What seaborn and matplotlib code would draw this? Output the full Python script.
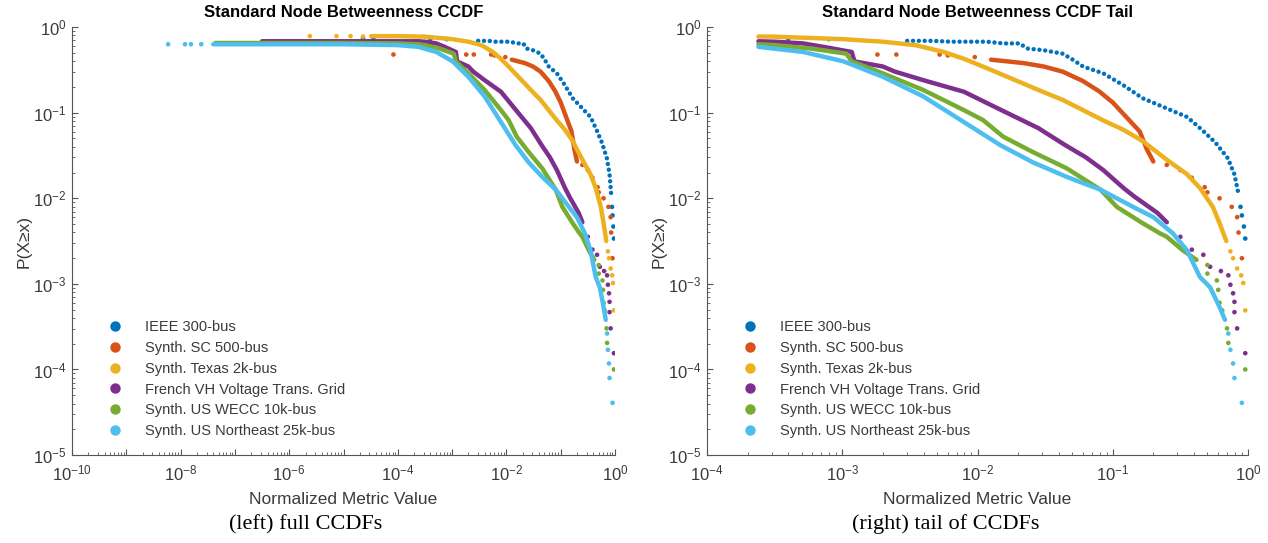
import numpy as np
import pandas as pd
import matplotlib
matplotlib.use("Agg")
import matplotlib.pyplot as plt
import seaborn as sns
from matplotlib.lines import Line2D
from matplotlib.ticker import LogLocator, FuncFormatter, NullFormatter

# values, stored as log10(x) and log10(P(X>=x))
# "line" = dense runs of points, "dot" = isolated points

ieee300_line_lx = [-2.52, -2.33, -2.2, -2.05, -1.93, -1.81, -1.69, -1.63, -1.51, -1.37, -1.29,
                   -1.22, -1.07, -0.92, -0.78, -0.6, -0.45, -0.34, -0.24, -0.15, -0.1, -0.07]
ieee300_line_ly = [-0.16, -0.16, -0.17, -0.17, -0.17, -0.19, -0.19, -0.25, -0.27, -0.31, -0.385,
                   -0.46, -0.54, -0.68, -0.83, -0.95, -1.05, -1.2, -1.35, -1.53, -1.72, -1.95]
ieee300_dot_lx = [-4.64, -4.45, -3.4, -3.1, -0.055, -0.045, -0.03, -0.02]
ieee300_dot_ly = [-0.13, -0.13, -0.14, -0.14, -2.1, -2.2, -2.33, -2.47]

sc500_line_lx = [-1.9, -1.66, -1.51, -1.37, -1.22, -1.1, -1.0, -0.9, -0.8, -0.75, -0.7]
sc500_line_ly = [-0.38, -0.42, -0.46, -0.52, -0.63, -0.75, -0.88, -1.05, -1.22, -1.42, -1.57]
sc500_dot_lx = [-4.08, -2.74, -2.6, -2.28, -2.22, -2.02, -0.6, -0.5, -0.415, -0.32, -0.3,
                -0.21, -0.12, -0.08, -0.07, -0.045]
sc500_dot_ly = [-0.32, -0.32, -0.32, -0.32, -0.33, -0.35, -1.61, -1.67, -1.76, -1.87, -1.93,
                -2.0, -2.1, -2.22, -2.4, -2.7]

texas2k_line_lx = [-4.49, -4.0, -3.62, -3.52, -3.0, -2.7, -2.46, -2.25, -2.1, -1.96, -1.81, -1.66, -1.51,
                   -1.37, -1.22, -1.07, -0.92, -0.78, -0.6, -0.45, -0.355, -0.26, -0.21, -0.16]
texas2k_line_ly = [-0.105, -0.105, -0.11, -0.11, -0.14, -0.17, -0.21, -0.29, -0.37, -0.46, -0.56, -0.66, -0.76,
                   -0.85, -0.97, -1.09, -1.2, -1.33, -1.55, -1.72, -1.88, -2.1, -2.29, -2.5]
texas2k_dot_lx = [-5.62, -5.13, -4.87, -4.64, -0.13, -0.11, -0.08, -0.05, -0.035, -0.02]
texas2k_dot_ly = [-0.105, -0.105, -0.105, -0.11, -2.62, -2.7, -2.82, -2.9, -2.99, -3.31]

french_line_lx = [-6.5, -5.0, -4.0, -3.62, -3.5, -3.29, -3.14, -2.93, -2.91, -2.7, -2.61, -2.4, -2.1,
                  -1.81, -1.55, -1.35, -1.2, -1.07, -0.92, -0.84, -0.67, -0.6]
french_line_ly = [-0.165, -0.165, -0.165, -0.165, -0.17, -0.19, -0.23, -0.29, -0.40, -0.46, -0.52, -0.62, -0.755,
                  -0.98, -1.18, -1.38, -1.52, -1.67, -1.88, -1.98, -2.17, -2.28]
french_dot_lx = [-0.5, -0.415, -0.33, -0.28, -0.2, -0.145, -0.13, -0.11, -0.1, -0.1, -0.08, -0.02]
french_dot_ly = [-2.45, -2.6, -2.66, -2.8, -2.85, -2.9, -3.01, -3.11, -3.21, -3.33, -3.52, -3.81]

wecc10k_line_lx = [-7.36, -5.0, -4.0, -3.62, -3.5, -3.23, -2.97, -2.93, -2.7, -2.4, -2.1, -1.96, -1.81,
                   -1.59, -1.34, -1.09, -0.97, -0.78, -0.65, -0.6, -0.48, -0.38]
wecc10k_line_ly = [-0.185, -0.185, -0.19, -0.20, -0.21, -0.25, -0.31, -0.40, -0.54, -0.735, -0.97, -1.085, -1.28,
                   -1.46, -1.65, -1.90, -2.1, -2.29, -2.41, -2.45, -2.61, -2.72]
wecc10k_dot_lx = [-0.3, -0.3, -0.23, -0.22, -0.21, -0.19, -0.155, -0.145, -0.02]
wecc10k_dot_ly = [-2.78, -2.88, -2.96, -3.07, -3.22, -3.31, -3.52, -3.69, -4.0]

ne25k_line_lx = [-7.4, -6.0, -5.0, -4.0, -3.62, -3.51, -3.29, -2.99, -2.7, -2.4, -2.11, -1.83, -1.59,
                 -1.34, -1.09, -0.85, -0.7, -0.555, -0.45, -0.355, -0.28, -0.21, -0.17]
ne25k_line_ly = [-0.2, -0.2, -0.2, -0.21, -0.23, -0.25, -0.29, -0.40, -0.58, -0.81, -1.1, -1.38, -1.58,
                 -1.75, -1.90, -2.10, -2.22, -2.41, -2.61, -2.92, -3.04, -3.27, -3.42]
ne25k_dot_lx = [-8.23, -7.92, -7.81, -7.62, -0.145, -0.13, -0.11, -0.1, -0.045]
ne25k_dot_ly = [-0.2, -0.2, -0.2, -0.2, -3.58, -3.77, -3.93, -4.10, -4.39]

# the tail panel only shows values from here on
tail_start_lx = -3.62

names = ["IEEE 300-bus", "Synth. SC 500-bus", "Synth. Texas 2k-bus",
         "French VH Voltage Trans. Grid", "Synth. US WECC 10k-bus", "Synth. US Northeast 25k-bus"]
colors = ["#0072BD", "#D95319", "#EDB120", "#7E2F8E", "#77AC30", "#4DBEEE"]

series = [
    (ieee300_line_lx, ieee300_line_ly, ieee300_dot_lx, ieee300_dot_ly),
    (sc500_line_lx, sc500_line_ly, sc500_dot_lx, sc500_dot_ly),
    (texas2k_line_lx, texas2k_line_ly, texas2k_dot_lx, texas2k_dot_ly),
    (french_line_lx, french_line_ly, french_dot_lx, french_dot_ly),
    (wecc10k_line_lx, wecc10k_line_ly, wecc10k_dot_lx, wecc10k_dot_ly),
    (ne25k_line_lx, ne25k_line_ly, ne25k_dot_lx, ne25k_dot_ly),
]

line_frames, dot_frames = [], []
for name, (llx, lly, dlx, dly) in zip(names, series):
    line_frames.append(pd.DataFrame({"series": name, "x": 10.0 ** np.array(llx), "y": 10.0 ** np.array(lly)}))
    dot_frames.append(pd.DataFrame({"series": name, "x": 10.0 ** np.array(dlx), "y": 10.0 ** np.array(dly)}))
lines_df = pd.concat(line_frames, ignore_index=True)
dots_df = pd.concat(dot_frames, ignore_index=True)

cut = 10.0 ** tail_start_lx * 0.999
tail_lines = lines_df[lines_df["x"] >= cut]
tail_dots = dots_df[dots_df["x"] >= cut]

palette = dict(zip(names, colors))
dash_map = {n: "" for n in names}
dash_map["IEEE 300-bus"] = (0.01, 1.3)

sns.set_style("ticks")
plt.rcParams["font.family"] = ["Liberation Sans", "DejaVu Sans"]
plt.rcParams["mathtext.default"] = "regular"

axis_grey = "#555555"
text_grey = "#3a3a3a"

fig = plt.figure(figsize=(12.68, 5.43), dpi=100)
ax_l = fig.add_axes([0.0568, 0.162, 0.4282, 0.788])
ax_r = fig.add_axes([0.5576, 0.162, 0.4266, 0.788])


def decade_fmt(only_even):
    def f(v, pos):
        e = int(round(np.log10(v)))
        if only_even and e % 2:
            return ""
        return f"$10^{{{e}}}$"
    return FuncFormatter(f)


panels = [(ax_l, lines_df, dots_df, -10, "Standard Node Betweenness CCDF", True),
          (ax_r, tail_lines, tail_dots, -4, "Standard Node Betweenness CCDF Tail", False)]

for ax, ldf, ddf, xmin, title, only_even in panels:
    sns.lineplot(data=ldf, x="x", y="y", hue="series", style="series", hue_order=names,
                 style_order=names, palette=palette, dashes=dash_map, estimator=None, sort=False,
                 lw=3.2, dash_capstyle="round", legend=False, ax=ax)
    sns.scatterplot(data=ddf, x="x", y="y", hue="series", hue_order=names, palette=palette,
                    s=11, linewidth=0, legend=False, ax=ax)
    ax.set_xscale("log")
    ax.set_yscale("log")
    ax.set_xlim(10.0 ** xmin, 1)
    ax.set_ylim(1e-5, 1)
    ax.set_xticks(10.0 ** np.arange(xmin, 1))
    ax.set_yticks(10.0 ** np.arange(-5, 1))
    ax.xaxis.set_major_formatter(decade_fmt(only_even))
    ax.yaxis.set_major_formatter(decade_fmt(False))
    ax.xaxis.set_minor_locator(LogLocator(base=10, subs=np.arange(2, 10), numticks=200))
    ax.yaxis.set_minor_locator(LogLocator(base=10, subs=np.arange(2, 10), numticks=200))
    ax.xaxis.set_minor_formatter(NullFormatter())
    ax.yaxis.set_minor_formatter(NullFormatter())
    ax.tick_params(which="major", direction="in", length=4, width=0.8, color=axis_grey,
                   labelcolor=text_grey, labelsize=12)
    ax.tick_params(axis="x", which="major", pad=6)
    ax.tick_params(axis="y", which="major", pad=4)
    ax.tick_params(which="minor", direction="in", length=2, width=0.6, color=axis_grey)
    for side in ["top", "right"]:
        ax.spines[side].set_visible(False)
    for side in ["left", "bottom"]:
        ax.spines[side].set_color(axis_grey)
        ax.spines[side].set_linewidth(0.8)
    ax.set_title(title, fontsize=12, fontweight="bold", color="black", pad=7)
    ax.set_xlabel("Normalized Metric Value", fontsize=12.5, color=text_grey, labelpad=6)
    ax.set_ylabel("P(X≥x)", fontsize=12.5, color=text_grey, labelpad=1)

    handles = [Line2D([], [], ls="", marker="o", ms=7.5, mec="none", color=palette[n]) for n in names]
    ax.legend(handles, names, loc="lower left", bbox_to_anchor=(0.063, 0.04), frameon=False,
              fontsize=10.5, labelspacing=0.46, handlelength=1.2, handletextpad=1.45,
              borderpad=0, borderaxespad=0, labelcolor=text_grey)

fig.text(0.241, 0.034, "(left) full CCDFs", family="Liberation Serif", fontsize=16,
         ha="center", va="center", color="black")
fig.text(0.746, 0.034, "(right) tail of CCDFs", family="Liberation Serif", fontsize=16,
         ha="center", va="center", color="black")

fig.savefig("out.png", dpi=100)
